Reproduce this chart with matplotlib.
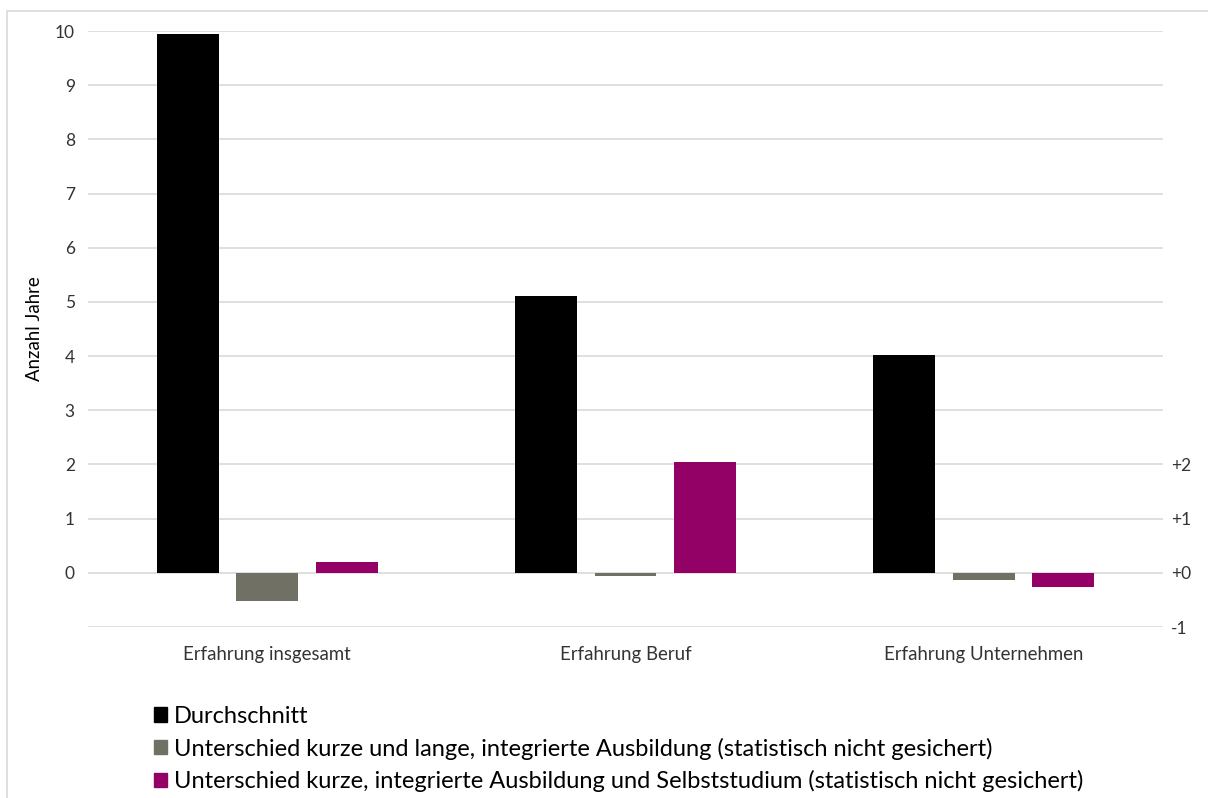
import numpy as np
import matplotlib.pyplot as plt
from matplotlib.patches import Rectangle, Patch

plt.rcParams['font.family'] = ['Lato', 'DejaVu Sans']

categories = ["Erfahrung insgesamt", "Erfahrung Beruf", "Erfahrung Unternehmen"]
durchschnitt = [9.95, 5.1, 4.02]
diff_lang = [-0.52, -0.05, -0.14]
diff_selbst = [0.2, 2.05, -0.26]

series_names = [
    "Durchschnitt",
    "Unterschied kurze und lange, integrierte Ausbildung (statistisch nicht gesichert)",
    "Unterschied kurze, integrierte Ausbildung und Selbststudium (statistisch nicht gesichert)",
]
colors = ["#000000", "#707064", "#930066"]

fig = plt.figure(figsize=(12.08, 7.98), dpi=100)
# outer frame of the chart area
fig.patches.append(Rectangle((7 / 1208, -0.05), 1.2, 1 - 11 / 798 + 0.05,
                             transform=fig.transFigure, fill=False,
                             edgecolor="#d9d9d9", linewidth=1.2))

ax = fig.add_axes([88 / 1208, 1 - 627 / 798, (1163 - 88) / 1208, (627 - 31) / 798])

x = np.arange(len(categories))
w = 0.173
step = 0.222
for i, vals in enumerate([durchschnitt, diff_lang, diff_selbst]):
    ax.bar(x + (i - 1) * step, vals, width=w, color=colors[i], zorder=3)

ax.set_xlim(-0.5, 2.5)
ax.set_ylim(-1, 10)
ax.set_yticks(range(-1, 11))
ax.set_yticklabels(["" if v < 0 else str(v) for v in range(-1, 11)])
ax.grid(axis="y", color="#d9d9d9", linewidth=1.2, zorder=0)
ax.set_xticks(x)
ax.set_xticklabels(categories, fontsize=13.4)
for s in ax.spines.values():
    s.set_visible(False)
ax.tick_params(axis="both", length=0, colors="#000000", labelcolor="#333333")
ax.tick_params(axis="y", labelsize=12.5, pad=9.5)
ax.tick_params(axis="x", pad=14)
ax.set_ylabel("Anzahl Jahre", fontsize=13.4)
ax.yaxis.set_label_coords(-45 / 1075, 0.5)

ax2 = ax.twinx()
ax2.set_ylim(-1, 10)
ax2.set_yticks([-1, 0, 1, 2])
ax2.set_yticklabels(["-1", "+0", "+1", "+2"])
for s in ax2.spines.values():
    s.set_visible(False)
ax2.tick_params(axis="y", length=0, labelsize=12.5, labelcolor="#333333", pad=6)

handles = [Patch(color=c) for c in colors]
fig.legend(handles, series_names, loc="upper left",
           bbox_to_anchor=(142 / 1208, 1 - 694 / 798), frameon=False,
           fontsize=17, handlelength=0.55, handleheight=0.55,
           handletextpad=0.3, labelspacing=0.45, borderpad=0)

fig.savefig("out.png", dpi=100)
